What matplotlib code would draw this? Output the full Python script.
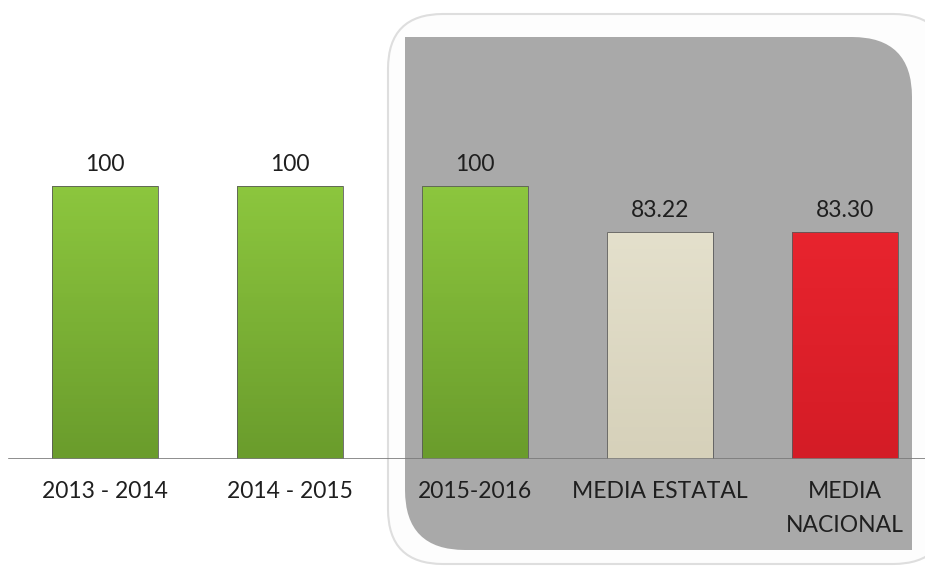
import matplotlib.pyplot as plt
import numpy as np
from matplotlib.patches import FancyBboxPatch, Rectangle

categories = ["2013 - 2014", "2014 - 2015", "2015-2016", "MEDIA ESTATAL", "MEDIA\nNACIONAL"]
values = [100, 100, 100, 83.22, 83.30]
value_labels = ["100", "100", "100", "83.22", "83.30"]
# top / bottom colours of each bar gradient
bar_colors = [("#8cc63e", "#6a9c2c"), ("#8cc63e", "#6a9c2c"), ("#8cc63e", "#6a9c2c"),
              ("#e4e0cc", "#d6d1ba"), ("#e8242e", "#d41c26")]

plt.rcParams['font.family'] = ['Lato', 'DejaVu Sans']

fig = plt.figure(figsize=(9.25, 5.68), dpi=100)

# background axes in pixel units for the rounded gray panel
bg = fig.add_axes([0, 0, 1, 1], zorder=-1)
bg.set_xlim(0, 925)
bg.set_ylim(568, 0)
bg.axis("off")
bg.add_patch(FancyBboxPatch((388, 14), 560, 550, boxstyle="round,pad=0,rounding_size=55",
                            facecolor="#fdfdfd", edgecolor="#dedede", lw=1.5))
bg.add_patch(FancyBboxPatch((405, 37), 507, 513, boxstyle="round,pad=0,rounding_size=60",
                            facecolor="#a9a9a9", edgecolor="none"))
# square off top-left and bottom-right corners
bg.add_patch(Rectangle((405, 37), 70, 70, facecolor="#a9a9a9", edgecolor="none"))
bg.add_patch(Rectangle((842, 480), 70, 70, facecolor="#a9a9a9", edgecolor="none"))

ax = fig.add_axes([0, 109 / 568, 1, 459 / 568])
ax.set_facecolor("none")
x = np.arange(len(values))
width = 0.57
bars = ax.bar(x, values, width=width, color="none", edgecolor="#5a5a5a", lw=0.6, zorder=3)

for b, (ctop, cbot) in zip(bars, bar_colors):
    x0, y0 = b.get_x(), b.get_y()
    w, h = b.get_width(), b.get_height()
    c1 = np.array(plt.matplotlib.colors.to_rgb(ctop))
    c2 = np.array(plt.matplotlib.colors.to_rgb(cbot))
    t = np.linspace(0, 1, 64)[:, None]
    grad = (c1 * (1 - t) + c2 * t)[:, None, :]
    im = ax.imshow(grad, extent=(x0, x0 + w, y0, y0 + h), origin="upper",
                   aspect="auto", zorder=2)
    im.set_clip_path(b)

for xi, v, lab in zip(x, values, value_labels):
    ax.text(xi, v + 4, lab, ha="center", va="bottom", fontsize=16.5, color="#1f1f1f")

ax.set_xlim(-105 / 185, 820 / 185)
ax.set_ylim(0, 459 / 273 * 100)
ax.axhline(0, xmin=0.01, xmax=1, color="#7a7a7a", lw=1.2, zorder=4)

ax.set_xticks(x)
ax.set_xticklabels(categories, fontsize=16.5, color="#1f1f1f", linespacing=1.75)
ax.tick_params(axis="x", length=0, pad=16)
ax.set_yticks([])
for s in ax.spines.values():
    s.set_visible(False)

fig.savefig("out.png", dpi=100)
